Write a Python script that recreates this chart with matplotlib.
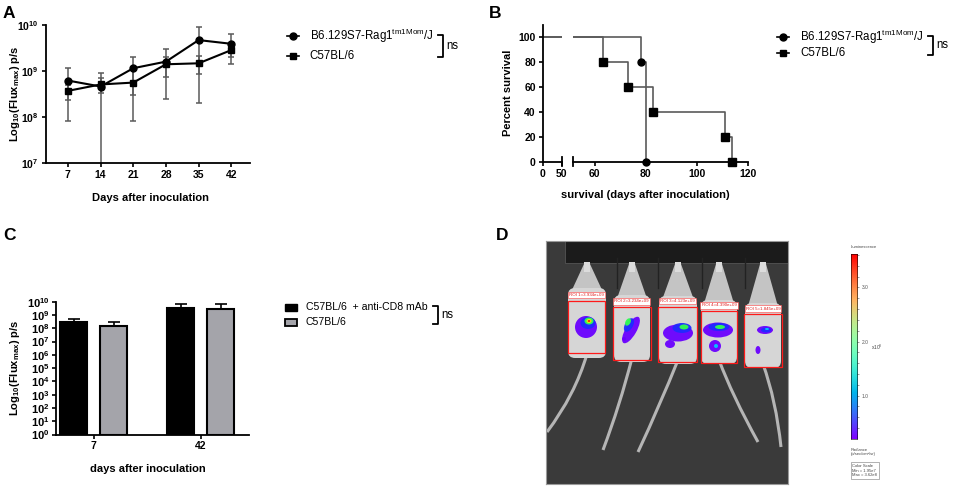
import numpy as np
import matplotlib
matplotlib.use("Agg")
import matplotlib.pyplot as plt
from matplotlib.lines import Line2D
from matplotlib.patches import Rectangle, Ellipse, FancyBboxPatch, Polygon, PathPatch
from matplotlib.path import Path
from matplotlib.ticker import FixedLocator, FuncFormatter, NullLocator

plt.rcParams['font.family'] = ['Liberation Sans', 'DejaVu Sans']
plt.rcParams['mathtext.fontset'] = 'custom'
plt.rcParams['mathtext.rm'] = 'Liberation Sans'
plt.rcParams['mathtext.bf'] = 'Liberation Sans:bold'
plt.rcParams['mathtext.it'] = 'Liberation Sans:italic'

# ---------------- data ----------------
# Panel A: bioluminescence over time (mean, SD)
days_a = [7, 14, 21, 28, 35, 42]
rag_mean = [6.2e8, 4.6e8, 1.15e9, 1.6e9, 4.7e9, 3.9e9]
rag_sd = [5.4e8, 4.65e8, 0.85e9, 1.35e9, 4.5e9, 2.5e9]
c57_mean = [3.7e8, 5.1e8, 5.6e8, 1.4e9, 1.47e9, 2.85e9]
c57_sd = [1.3e8, 1.8e8, 4.8e8, 0.65e9, 0.6e9, 0.8e9]
label_rag = r'B6.129S7-Rag1$^{\mathrm{tm1Mom}}$/J'
label_c57 = 'C57BL/6'

# Panel B: Kaplan-Meier survival
rag_t = [0, 78, 80]
rag_s = [100, 80, 0]
c57_t = [0, 63, 73, 83, 111, 114]
c57_s = [100, 80, 60, 40, 20, 0]

# Panel C: bars
days_c = ['7', '42']
cd8_mean = [2.75e8, 3.5e9]
cd8_sd = [1.9e8, 3.6e9]
ctl_mean = [1.5e8, 2.8e9]
ctl_sd = [1.4e8, 3.7e9]
label_cd8 = 'C57BL/6  + anti-CD8 mAb'

# Panel D: ROI values and colour scale
roi_labels = ['ROI 1=3.934e+09', 'ROI 2=3.234e+09', 'ROI 3=4.123e+09',
              'ROI 4=4.390e+09', 'ROI 5=1.845e+09']
cscale_min, cscale_max = 0.195, 3.62  # x10^8
cbar_ticks = [1.0, 2.0, 3.0]

# ---------------- layout helpers ----------------
W, H = 957, 487
fig = plt.figure(figsize=(W / 100, H / 100), dpi=100)


def rect(x0, y0, x1, y1):
    return [x0 / W, 1 - y1 / H, (x1 - x0) / W, (y1 - y0) / H]


def fx(x):
    return x / W


def fy(y):
    return 1 - y / H


TICK_FS = 7.5
LAB_FS = 8
LEG_FS = 8.3
GRAY = '#5a5a5a'


def pow10(v, pos):
    e = int(round(np.log10(v)))
    return r'$\mathbf{10^{%d}}$' % e


def style_axes(ax, fs=TICK_FS):
    for s in ['top', 'right']:
        ax.spines[s].set_visible(False)
    for s in ['left', 'bottom']:
        ax.spines[s].set_linewidth(1.3)
    ax.tick_params(width=1.2, length=3, labelsize=fs, pad=2)
    for lab in ax.get_xticklabels() + ax.get_yticklabels():
        lab.set_fontweight('bold')


def legend_line(x, y, marker, text, ms=5, fs=LEG_FS):
    fig.add_artist(Line2D([fx(x - 6), fx(x), fx(x + 6)], [fy(y)] * 3, color='black', lw=1.2,
                          marker=marker, markevery=[1], markersize=ms, transform=fig.transFigure))
    fig.text(fx(x + 17), fy(y), text, fontsize=fs, ha='left', va='center')


def bracket(x, y0, y1, label='ns'):
    fig.add_artist(Line2D([fx(x - 5), fx(x), fx(x), fx(x - 5)], [fy(y0), fy(y0), fy(y1), fy(y1)],
                          color='black', lw=1.3, transform=fig.transFigure))
    fig.text(fx(x + 3.5), fy((y0 + y1) / 2), label, fontsize=LEG_FS, ha='left', va='center')


# ---------------- Panel A ----------------
axA = fig.add_axes(rect(45.7, 25, 250, 163))
axA.set_yscale('log')
axA.errorbar(days_a, rag_mean, yerr=rag_sd, fmt='none', ecolor=GRAY, elinewidth=1.1, capsize=2.2,
             capthick=1.1, zorder=2)
axA.errorbar(days_a, c57_mean, yerr=c57_sd, fmt='none', ecolor=GRAY, elinewidth=1.1, capsize=2.2,
             capthick=1.1, zorder=2)
axA.plot(days_a, rag_mean, color='black', lw=1.5, marker='o', markersize=5, zorder=3)
axA.plot(days_a, c57_mean, color='black', lw=1.5, marker='s', markersize=5, zorder=3)
axA.set_xlim(2.24, 46.0)
axA.set_ylim(1e7, 1e10)
axA.set_xticks(days_a)
axA.yaxis.set_major_locator(FixedLocator([1e7, 1e8, 1e9, 1e10]))
axA.yaxis.set_minor_locator(NullLocator())
axA.yaxis.set_major_formatter(FuncFormatter(pow10))
style_axes(axA)
fig.text(fx(150), fy(198), 'Days after inoculation', fontsize=LAB_FS, fontweight='bold',
         ha='center', va='center')
fig.text(fx(15), fy(94), r'$\mathbf{Log_{10}(Flux_{max})\ p/s}$', fontsize=LAB_FS, rotation=90,
         ha='center', va='center')
legend_line(292.5, 36, 'o', label_rag)
legend_line(292.5, 56, 's', label_c57)
bracket(443, 35, 57)

# ---------------- Panel B ----------------
axB1 = fig.add_axes(rect(542.7, 25, 561.7, 161.7))
axB2 = fig.add_axes(rect(572.7, 25, 747.7, 161.7))
axB1.set_xlim(0, 50)
axB2.set_xlim(51.3, 120)
for ax in (axB1, axB2):
    lo, hi = ax.get_xlim()
    ax.step(rag_t, rag_s, where='post', color=GRAY, lw=1.2, zorder=2)
    ax.step(c57_t, c57_s, where='post', color=GRAY, lw=1.2, zorder=2)
    rt = [t for t in rag_t[1:] if lo <= t <= hi]
    rs = [s for t, s in zip(rag_t[1:], rag_s[1:]) if lo <= t <= hi]
    ct = [t for t in c57_t[1:] if lo <= t <= hi]
    cs = [s for t, s in zip(c57_t[1:], c57_s[1:]) if lo <= t <= hi]
    ax.plot(rt, rs, linestyle='none', marker='o', color='black', markersize=5, zorder=3, clip_on=False)
    ax.plot(ct, cs, linestyle='none', marker='s', color='black', markersize=5.5, zorder=3,
            clip_on=False)
    ax.set_ylim(0, 110)
axB1.set_xticks([0, 50])
axB2.set_xticks([60, 80, 100, 120])
axB1.set_yticks([0, 20, 40, 60, 80, 100])
style_axes(axB1)
style_axes(axB2)
axB2.spines['left'].set_visible(False)
axB2.tick_params(axis='y', left=False, labelleft=False)
for ax, xv in ((axB1, 1.0), (axB2, 0.0)):
    ax.plot([xv, xv], [-0.035, 0.035], transform=ax.transAxes, color='black', lw=1.3, clip_on=False)
fig.text(fx(645), fy(195), 'survival (days after inoculation)', fontsize=LAB_FS, fontweight='bold',
         ha='center', va='center')
fig.text(fx(508), fy(93), 'Percent survival', fontsize=LAB_FS, fontweight='bold', rotation=90,
         ha='center', va='center')
legend_line(783, 37.3, 'o', label_rag)
legend_line(783, 53.3, 's', label_c57)
bracket(933, 36, 55)

# ---------------- Panel C ----------------
axC = fig.add_axes(rect(56, 301.7, 249, 434.5))
axC.set_yscale('log')
xc = np.arange(len(days_c))
bw = 0.25
off = 0.186
axC.bar(xc - off, cd8_mean, width=bw, bottom=1, color='black', edgecolor='black', lw=1.5, zorder=2)
axC.bar(xc + off, ctl_mean, width=bw, bottom=1, color='#a4a4aa', edgecolor='black', lw=1.5, zorder=2)
axC.errorbar(xc - off, cd8_mean, yerr=[[0] * len(xc), cd8_sd], fmt='none', ecolor='black',
             elinewidth=1.2, capsize=4.5, capthick=1.2, zorder=1)
axC.errorbar(xc + off, ctl_mean, yerr=[[0] * len(xc), ctl_sd], fmt='none', ecolor='black',
             elinewidth=1.2, capsize=4.5, capthick=1.2, zorder=1)
axC.set_xlim(-0.352, 1.451)
axC.set_ylim(1, 1e10)
axC.set_xticks(xc)
axC.set_xticklabels(days_c)
axC.yaxis.set_major_locator(FixedLocator([10.0 ** k for k in range(11)]))
axC.yaxis.set_minor_locator(NullLocator())
axC.yaxis.set_major_formatter(FuncFormatter(pow10))
style_axes(axC)
axC.tick_params(axis='y', labelsize=8, pad=1.5)
fig.text(fx(148), fy(469), 'days after inoculation', fontsize=LAB_FS, fontweight='bold',
         ha='center', va='center')
fig.text(fx(15), fy(368), r'$\mathbf{Log_{10}(Flux_{max})\ p/s}$', fontsize=LAB_FS, rotation=90,
         ha='center', va='center')
fig.add_artist(Rectangle((fx(285), fy(311)), 12 / W, 7 / H, facecolor='black', edgecolor='black',
                         lw=1, transform=fig.transFigure))
fig.add_artist(Rectangle((fx(285), fy(326)), 12 / W, 7 / H, facecolor='#a4a4aa', edgecolor='black',
                         lw=1.3, transform=fig.transFigure))
fig.text(fx(306), fy(307.3), label_cd8, fontsize=7.6, ha='left', va='center')
fig.text(fx(306), fy(322.3), label_c57, fontsize=7.6, ha='left', va='center')
bracket(438, 306, 324)

# ---------------- Panel labels ----------------
for lab, x, y in (('A', 3, 13), ('B', 489, 13), ('C', 3, 235), ('D', 496, 235)):
    fig.text(fx(x), fy(y), lab, fontsize=12.5, fontweight='bold', ha='left', va='center')

# ---------------- Panel D: imaging picture (schematic) ----------------
axD = fig.add_axes(rect(545.5, 240.7, 788, 483.5))
axD.set_xlim(545.5, 788)
axD.set_ylim(483.5, 240.7)
axD.set_facecolor('#3a3a3a')
axD.set_xticks([])
axD.set_yticks([])
for s in axD.spines.values():
    s.set_color('#9a9a9a')
    s.set_linewidth(0.8)
axD.add_patch(Rectangle((565, 240.7), 223, 22, facecolor='#1b1b1b', edgecolor='#555555', lw=0.6))
for xv in (616.7, 658, 701.7, 745):
    axD.plot([xv, xv], [258, 288], color='#222222', lw=1.0)

mice_cx = [587, 632, 678, 719, 763]
body_top = [288, 295, 296, 300, 303]
body_bot = [358, 362, 364, 364, 368]
body_w = [38, 36, 38, 36, 36]
tail_ctrl = [(575, 395), (620, 405), (660, 405), (732, 395), (776, 400)]
tail_end = [(547, 432), (603, 450), (638, 452), (758, 442), (781, 447)]
for cx, bt, bb, bwid, tc, te in zip(mice_cx, body_top, body_bot, body_w, tail_ctrl, tail_end):
    path = Path([(cx, bb - 4), tc, te], [Path.MOVETO, Path.CURVE3, Path.CURVE3])
    axD.add_patch(PathPatch(path, facecolor='none', edgecolor='#b5b5b5', lw=2.2))
    axD.add_patch(Polygon([(cx - 3, 264), (cx + 3, 264), (cx + bwid * 0.42, bt + 4),
                           (cx - bwid * 0.42, bt + 4)], closed=True, facecolor='#c4c4c4',
                          edgecolor='none'))
    axD.add_patch(Rectangle((cx - 3, 262), 6, 10, facecolor='#dcdcdc', edgecolor='none'))
    axD.add_patch(FancyBboxPatch((cx - bwid / 2, bt), bwid, bb - bt,
                                 boxstyle='round,pad=0,rounding_size=7',
                                 facecolor='#d6d6d6', edgecolor='none'))

blob_purple = '#6a00ff'
blob_blue = '#1f2bff'
blob_cyan = '#00c8ff'
blob_green = '#30ff50'
blob_yellow = '#ffe600'
blob_red = '#ff2000'
blobs = [
    (586, 327, 22, 22, 0, blob_purple), (588, 323, 15, 12, 0, blob_blue), (589, 321, 9, 7, 0, blob_green),
    (589, 321, 5, 4, 0, blob_yellow), (589, 321, 2.5, 2, 0, blob_red),
    (631, 330, 11, 30, 30, blob_purple), (629, 325, 8, 15, 30, blob_blue), (628, 322, 5, 8, 30, blob_green),
    (624, 339, 4, 4, 0, blob_purple),
    (678, 333, 30, 17, 0, blob_purple), (682, 328, 19, 10, 0, blob_blue), (684, 327, 9, 5, 0, blob_green),
    (670, 344, 10, 8, 0, blob_purple),
    (718, 330, 30, 15, 0, blob_purple), (719, 327, 21, 8, 0, blob_blue), (720, 327, 10, 4, 0, blob_green),
    (715, 346, 12, 12, 0, blob_purple), (716, 346, 4, 4, 0, blob_cyan),
    (765, 330, 16, 8, 0, blob_purple), (766, 330, 10, 5, 0, blob_blue), (767, 329, 4, 2, 0, blob_cyan),
    (758, 350, 5, 8, 0, blob_purple),
]
for x, y, w, h, a, c in blobs:
    axD.add_patch(Ellipse((x, y), w, h, angle=a, facecolor=c, edgecolor='none', alpha=0.95))

roi_boxes = [(568, 300.7, 605, 353.3), (612.7, 307, 650.7, 360), (658, 306.7, 697, 362),
             (700.7, 311, 737.3, 363), (744, 314, 782, 366.7)]
for (x0, y0, x1, y1), lab in zip(roi_boxes, roi_labels):
    axD.add_patch(Rectangle((x0, y0), x1 - x0, y1 - y0, facecolor='none', edgecolor='#ff1a1a', lw=0.9))
    axD.text((x0 + x1) / 2, y0 - 5.5, lab, fontsize=3.2, color='#e02020', ha='center', va='center',
             bbox=dict(boxstyle='square,pad=0.25', facecolor='white', edgecolor='#ff4040', lw=0.4))

# colour bar
axCB = fig.add_axes(rect(850.7, 254, 857.3, 439))
grad = np.linspace(cscale_min, cscale_max, 256)[:, None]
axCB.imshow(grad, aspect='auto', cmap='rainbow', origin='lower',
            extent=[0, 1, cscale_min, cscale_max])
axCB.set_xticks([])
axCB.yaxis.tick_right()
axCB.set_yticks(cbar_ticks)
axCB.set_yticklabels(['%.1f' % t for t in cbar_ticks])
axCB.yaxis.set_minor_locator(FixedLocator(np.arange(0.4, 3.61, 0.2)))
axCB.tick_params(axis='y', which='both', labelsize=3.5, length=1.5, width=0.4, pad=1.5,
                 colors='#555555')
for s in axCB.spines.values():
    s.set_linewidth(0.4)
fig.text(fx(851), fy(246.5), 'Luminescence', fontsize=3, color='#444444', ha='left', va='center')
fig.text(fx(871), fy(347), r'x10$^{8}$', fontsize=3.5, color='#444444', ha='left', va='center')
fig.text(fx(851), fy(452), 'Radiance\n(p/sec/cm\u00b2/sr)', fontsize=3, color='#444444', ha='left',
         va='center', linespacing=1.2)
fig.add_artist(Rectangle((fx(850.7), fy(479)), 28.3 / W, 17 / H, facecolor='white',
                         edgecolor='#777777', lw=0.4, transform=fig.transFigure))
fig.text(fx(852), fy(470.5), 'Color Scale\nMin = 1.95e7\nMax = 3.62e8', fontsize=3, color='#444444',
         ha='left', va='center', linespacing=1.15)

fig.savefig('out.png', dpi=100)
